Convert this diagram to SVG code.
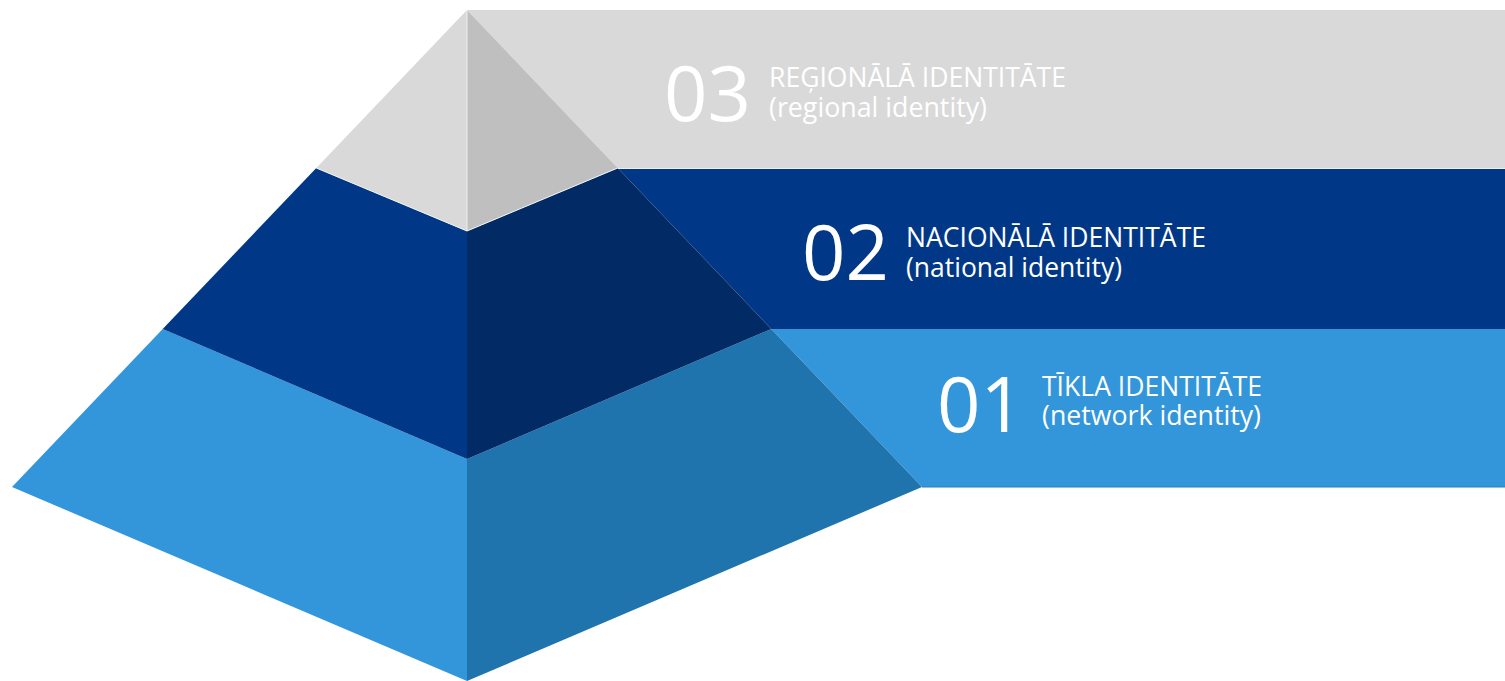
<svg xmlns="http://www.w3.org/2000/svg" width="1505" height="681" viewBox="0 0 1505 681">
<style>
.num{font-family:"Open Sans","Noto Sans",sans-serif;font-size:76px;fill:#fff}
.lbl{font-family:"Open Sans","Noto Sans",sans-serif;font-size:27px;fill:#fff}
.g1{fill:#D9D9D9}.g2{fill:#BFBFBF}
.n1{fill:#003887}.n2{fill:#022A65}
.b1{fill:#3396DA}.b2{fill:#1F74AD}
</style>
<rect width="1505" height="681" fill="#fff"/>
<g id="level-01">
<polygon class="b1" points="771.3,329 1505,329 1505,487 922,487"/>
<line x1="922" y1="487" x2="1505" y2="487" stroke="#2A7FC0" stroke-width="1"/>
<polygon class="b1" points="162.7,329 12,487 467,681 467,459"/>
<polygon class="b2" points="771.3,329 922,487 467,681 467,459"/>
<text class="num" x="937" y="432">01</text>
<text class="lbl" x="1042" y="396" textLength="220" lengthAdjust="spacingAndGlyphs">TĪKLA IDENTITĀTE</text>
<text class="lbl" x="1042" y="425" textLength="219" lengthAdjust="spacingAndGlyphs">(network identity)</text>
</g>
<g id="level-02">
<polygon class="n1" points="617.7,168 1505,168 1505,329 771.3,329"/>
<polygon class="n1" points="316.3,168 162.7,329 467,459 467,231"/>
<polygon class="n2" points="617.7,168 771.3,329 467,459 467,231"/>
<text class="num" x="802" y="280">02</text>
<text class="lbl" x="906" y="247" textLength="300" lengthAdjust="spacingAndGlyphs">NACIONĀLĀ IDENTITĀTE</text>
<text class="lbl" x="906" y="277" textLength="216" lengthAdjust="spacingAndGlyphs">(national identity)</text>
</g>
<g id="level-03">
<polygon class="g1" points="467,10 1505,10 1505,168 617.7,168"/>
<line x1="617.7" y1="168.5" x2="1505" y2="168.5" stroke="#EEEEEE" stroke-width="1"/>
<polygon class="g1" points="467,10 316.3,168 467,231"/>
<polygon class="g2" points="467,10 617.7,168 467,231"/>
<polyline points="316.3,168 467,231 617.7,168" fill="none" stroke="#F2F2F2" stroke-width="1"/>
<line x1="467" y1="10" x2="467" y2="231" stroke="#EEEEEE" stroke-width="1"/>
<text class="num" x="664" y="121">03</text>
<text class="lbl" x="769" y="87" textLength="297" lengthAdjust="spacingAndGlyphs">REĢIONĀLĀ IDENTITĀTE</text>
<text class="lbl" x="769" y="117" textLength="218" lengthAdjust="spacingAndGlyphs">(regional identity)</text>
</g>
<g id="connectors"/>
</svg>
